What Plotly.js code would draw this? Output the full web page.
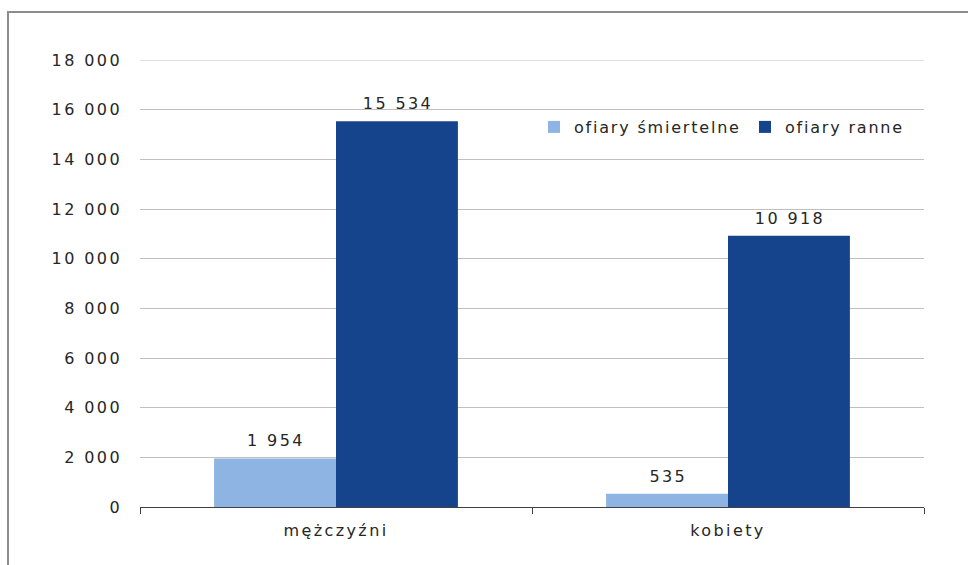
<!DOCTYPE html>
<html>
<head>
<meta charset="utf-8">
<script src="https://cdn.plot.ly/plotly-3.0.1.min.js"></script>
<style>
html,body{margin:0;padding:0;background:#fff;}
#chart{width:968px;height:565px;}
#chart text{letter-spacing:2.4px;}
#chart .legend text{letter-spacing:1.8px;}
</style>
</head>
<body>
<div id="chart"></div>
<script>
const categories = ["mężczyźni", "kobiety"];
const seriesNames = ["ofiary śmiertelne", "ofiary ranne"];
const fatalities = [1954, 535];
const injured = [15534, 10918];
const tickValues = [0, 2000, 4000, 6000, 8000, 10000, 12000, 14000, 16000, 18000];

const font = {family: "DejaVu Sans, Verdana, sans-serif", size: 16, color: "#262626"};
const fmt = v => String(v).replace(/\B(?=(\d{3})+(?!\d))/g, " ");

const traces = [
  {type: "bar", name: seriesNames[0], x: categories, y: fatalities,
   marker: {color: "#8EB4E3"}, hoverinfo: "skip"},
  {type: "bar", name: seriesNames[1], x: categories, y: injured,
   marker: {color: "#15448D"}, hoverinfo: "skip"}
];

const annotations = [];
[fatalities, injured].forEach((vals, s) => {
  vals.forEach((v, i) => {
    annotations.push({x: categories[i], y: v, xref: "x", yref: "y", text: fmt(v),
      showarrow: false, yanchor: "bottom", yshift: 6, xshift: s === 0 ? -60 : 62, font: font});
  });
});

const L = 140, R = 44, T = 60, B = 58;
const W = 968 - L - R, H = 565 - T - B;
const px = v => (v - L) / W;
const py = v => (565 - B - v) / H;

const layout = {
  width: 968, height: 565,
  margin: {l: L, r: R, t: T, b: B, pad: 0, autoexpand: false},
  paper_bgcolor: "#fff", plot_bgcolor: "#fff",
  font: font,
  separators: ", ",
  barmode: "group",
  bargap: 0.378, bargroupgap: 0,
  showlegend: true,
  legend: {orientation: "h", x: px(534), xanchor: "left", y: py(127), yanchor: "middle",
           font: font, bgcolor: "rgba(0,0,0,0)", itemwidth: 30, traceorder: "normal",
           entrywidth: 166, entrywidthmode: "pixels"},
  xaxis: {type: "category", showline: true, linecolor: "#404040", linewidth: 1,
          ticks: "outside", tickson: "boundaries", ticklen: 6, tickcolor: "#404040",
          showgrid: false, ticklabelstandoff: 9, tickfont: font, fixedrange: true, automargin: false},
  yaxis: {range: [0, 18000], tickvals: tickValues, tickformat: ",d",
          showgrid: true, gridcolor: "#BFBFBF", gridwidth: 1, zeroline: false,
          showline: false, ticks: "", ticklabelstandoff: 17, tickfont: font, fixedrange: true, automargin: false},
  annotations: annotations,
  shapes: [
    {type: "line", xref: "paper", yref: "y", x0: 0, x1: 1,
     y0: tickValues[tickValues.length - 1], y1: tickValues[tickValues.length - 1],
     line: {color: "#BFBFBF", width: 1}, layer: "below"},
    {type: "rect", xref: "paper", yref: "paper", x0: px(8), x1: px(1000), y0: py(600), y1: py(12),
     line: {color: "#8C8C8C", width: 2}, fillcolor: "rgba(0,0,0,0)", layer: "below"}
  ]
};

Plotly.newPlot("chart", traces, layout, {displayModeBar: false, staticPlot: true});
</script>
</body>
</html>
